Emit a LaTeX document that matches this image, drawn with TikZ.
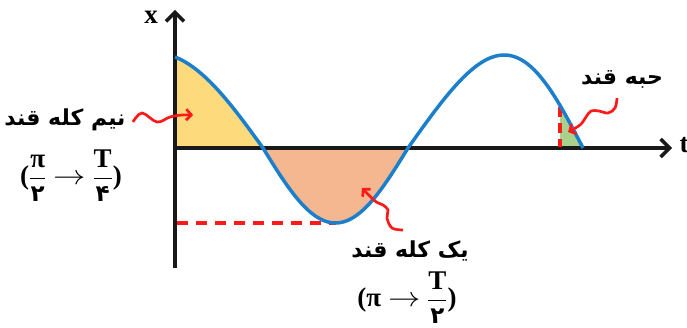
\documentclass[tikz,border=0pt]{standalone}
\usepackage{amsmath}
\usepackage{graphicx}
\usepackage{fontspec}
\setmainfont{Liberation Serif}
\newfontfamily\fafont[Script=Arabic]{DejaVu Sans}
\TeXXeTstate=1
\usetikzlibrary{arrows.meta}
\definecolor{curveblue}{HTML}{1B7FCC}
\definecolor{fillyellow}{HTML}{FDDA7B}
\definecolor{fillorange}{HTML}{F4B78F}
\definecolor{fillgreen}{HTML}{A9D18E}
\definecolor{arrred}{HTML}{FF1A1A}
\newcommand{\myfr}[2]{\genfrac{}{}{1.6pt}{0}{#1}{#2}}
\newcommand{\fadig}[1]{\mbox{\fontsize{23}{24}\selectfont\fafont\bfseries #1}}
\newcommand{\longarr}{\mathrel{\scalebox{1.3}[1.1]{$\rightarrow$}}}
\begin{document}
\begin{tikzpicture}[x=1pt,y={(0pt,-1pt)},
  axisline/.style={line width=3.5pt,black!90,-{Straight Barb[length=9pt,width=18pt,line width=3.5pt]}},
  wave/.style={line width=3.5pt,curveblue,line join=round},
  reddash/.style={line width=3.2pt,arrred,dash pattern=on 11pt off 8pt},
  sq/.style={line width=2.7pt,arrred,-{Straight Barb[length=5pt,width=11pt,line width=2.7pt]}},
  falabel/.style={font=\fontsize{22}{26}\selectfont\fafont\bfseries,inner sep=0pt},
  mathlabel/.style={font=\fontsize{27}{30}\selectfont\bfseries,inner sep=0pt},
  axlabel/.style={font=\fontsize{27}{28}\selectfont\bfseries,inner sep=0pt}]
\useasboundingbox (0,0) rectangle (687,328);
% fills
\fill[fillyellow] (175,148) -- plot[domain=175:263,samples=40] (\x,{148-95*sin((263-\x)*0.834)}) -- cycle;
\fill[fillorange] (263,148) -- plot[domain=263:408,samples=60] (\x,{148+75*sin((\x-263)*1.2414)}) -- cycle;
\fill[fillgreen] (560,148) -- plot[domain=560:583,samples=15] (\x,{148-93*sin(180*((\x-408)/175-0.05*sin((\x-408)*1.0286)))}) -- cycle;
% axes
\coordinate (yb) at (175,268);
\coordinate (yt) at (175,10);
\coordinate (xl) at (175,148);
\coordinate (xr) at (672,148);
\draw[axisline] (yb) -- (yt);
\draw[axisline] (xl) -- (xr);
\node[axlabel] (xlab) at (151,17) {x};
\node[axlabel] (tlab) at (684,145) {t};
% dashed guides
\coordinate (d1a) at (177,223);
\coordinate (d1b) at (336,223);
\draw[reddash] (d1a) -- (d1b);
\coordinate (d2a) at (560,107);
\coordinate (d2b) at (560,147);
\draw[line width=3.2pt,arrred,dash pattern=on 10pt off 6pt] (d2a) -- (d2b);
% curve
\draw[wave] plot[domain=175:263,samples=40] (\x,{148-95*sin((263-\x)*0.834)})
  -- plot[domain=263:408,samples=60] (\x,{148+75*sin((\x-263)*1.2414)})
  -- plot[domain=408:583,samples=70] (\x,{148-93*sin(180*((\x-408)/175-0.05*sin((\x-408)*1.0286)))});
% labels
\node[falabel] (l1) at (65,120) {\beginR نیم کله قند\endR};
\node[mathlabel] (m1) at (71,176) {(\(\myfr{\mbox{π}}{\fadig{۲}}\longarr\myfr{\mbox{T}}{\fadig{۴}}\))};
\node[falabel] (l2) at (410,251) {\beginR یک کله قند\endR};
\node[mathlabel] (m2) at (407,298) {(\(\mbox{π}\longarr\myfr{\mbox{T}}{\fadig{۲}}\))};
\node[falabel] (l3) at (622,79) {\beginR حبه قند\endR};
% squiggle arrows
\coordinate (s1) at (133,122);
\coordinate (t1) at (193,115);
\draw[sq] plot[smooth,tension=0.6] coordinates {(s1) (142,113) (157,122) (170,117) (182,115) (t1)};
\coordinate (s2) at (403,230);
\coordinate (t2) at (362,188);
\draw[sq] plot[smooth,tension=0.6] coordinates {(s2) (392,228) (387,218) (388,210) (383,205) (375,201) (t2)};
\coordinate (s3) at (617,98);
\coordinate (t3) at (568,132);
\draw[sq] plot[smooth,tension=0.6] coordinates {(s3) (615,108) (608,113) (599,111) (591,111) (586,117) (580,125) (t3)};
\end{tikzpicture}
\end{document}
